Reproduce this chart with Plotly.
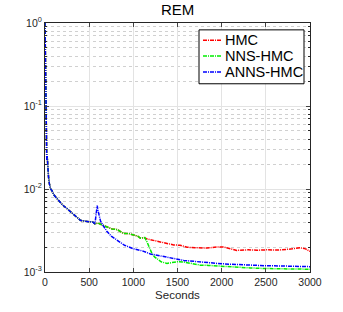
import plotly.graph_objects as go

# ---- data ----
hmc_t = [0, 5, 10, 15, 20, 25, 30, 40, 50, 64, 80, 100, 130, 160, 200, 250, 300, 350, 400, 450, 500, 540, 565,
         600, 629, 700, 760, 817, 860, 892, 950, 1005, 1050, 1080, 1120, 1155, 1230, 1306, 1380, 1456, 1530, 1607,
         1700, 1833, 1950, 2021, 2100, 2172, 2300, 2400, 2510, 2650, 2800, 2886, 2950, 3000]
hmc_v = [1.0, 0.3, 0.06, 0.03, 0.022, 0.025, 0.019, 0.014, 0.0115, 0.0100, 0.0095, 0.0085, 0.0078, 0.0072, 0.0064,
         0.0058, 0.0052, 0.0046, 0.0042, 0.0041, 0.0040, 0.0040, 0.0038,
         0.0039, 0.00376, 0.0035, 0.0033, 0.00325, 0.0030, 0.0029, 0.0029, 0.0028, 0.0027, 0.00256, 0.0026, 0.0025,
         0.0024, 0.00228, 0.0022, 0.00212, 0.0021, 0.00199, 0.00196, 0.00194, 0.0020, 0.0020, 0.0019, 0.00182,
         0.00185, 0.00183, 0.00185, 0.00184, 0.0019, 0.00196, 0.0019, 0.00177]

nns_t = [0, 5, 10, 15, 20, 25, 30, 40, 50, 64, 80, 100, 130, 160, 200, 250, 300, 350, 400, 450, 500, 540, 565,
         600, 629, 700, 760, 817, 860, 892, 950, 1005, 1050, 1080, 1130, 1155, 1190, 1212, 1240, 1268, 1320, 1381,
         1450, 1500, 1570, 1650, 1758, 1850, 1946, 2100, 2322, 2500, 2700, 3000]
nns_v = [1.0, 0.3, 0.06, 0.03, 0.022, 0.025, 0.019, 0.014, 0.0115, 0.0100, 0.0095, 0.0085, 0.0078, 0.0072, 0.0064,
         0.0058, 0.0052, 0.0046, 0.0042, 0.0041, 0.0040, 0.0040, 0.0038,
         0.0039, 0.00376, 0.0035, 0.0033, 0.00325, 0.0030, 0.0029, 0.0029, 0.0028, 0.0027, 0.00256, 0.0026, 0.0023,
         0.0019, 0.00166, 0.00152, 0.00145, 0.00132, 0.00127, 0.0013, 0.00133, 0.00132, 0.00128, 0.00121, 0.0012,
         0.00118, 0.00116, 0.00112, 0.0011, 0.00109, 0.00108]

anns_t = [0, 5, 10, 15, 20, 25, 30, 40, 50, 64, 80, 100, 130, 160, 200, 250, 300, 350, 400, 450, 500, 540, 565,
          575, 585, 591, 600, 615, 629, 660, 700, 750, 817, 900, 1005, 1100, 1193, 1300, 1381, 1480, 1570, 1700,
          1800, 1946, 2100, 2322, 2500, 2700, 2850, 3000]
anns_v = [1.0, 0.3, 0.06, 0.03, 0.022, 0.025, 0.019, 0.014, 0.0115, 0.0100, 0.0095, 0.0085, 0.0078, 0.0072, 0.0064,
          0.0058, 0.0052, 0.0046, 0.0042, 0.0041, 0.0040, 0.0040, 0.0038, 0.0045, 0.0058, 0.0063, 0.0055, 0.0046,
          0.0041, 0.0036, 0.0031, 0.0027, 0.00239, 0.0021, 0.0019, 0.0018, 0.00165, 0.00157, 0.00150, 0.00143,
          0.00138, 0.00134, 0.00130, 0.00127, 0.00124, 0.0012, 0.00119, 0.00118, 0.00117, 0.00116]

series_names = ["HMC", "NNS-HMC", "ANNS-HMC"]
series_colors = ["#ff0000", "#00ee00", "#0000ff"]

x_ticks = [0, 500, 1000, 1500, 2000, 2500, 3000]
y_tickvals = [1e-3, 1e-2, 1e-1, 1]
y_ticktext = ["10<sup>-3</sup>", "10<sup>-2</sup>", "10<sup>-1</sup>", "10<sup>0</sup>"]
minor_vals = [m * 10 ** e for e in (-3, -2, -1) for m in range(2, 10)]

W, H = 343, 312
ML, MR, MT, MB = 45, 33, 23, 35
DASH = "4px,1px,1px,1px"


def px_x(p):
    return (p - ML) / (W - ML - MR)


def px_y(p):
    return (H - MB - p) / (H - MT - MB)


fig = go.Figure()
for t, v, name, col in zip([hmc_t, nns_t, anns_t], [hmc_v, nns_v, anns_v], series_names, series_colors):
    fig.add_trace(go.Scatter(x=t, y=v, mode="lines", name=name, showlegend=False,
                             line=dict(color=col, width=1.5, dash=DASH)))

# MATLAB-style legend box (compact rows)
shapes = [dict(type="rect", xref="paper", yref="paper", layer="above",
               x0=px_x(199), x1=px_x(304), y0=px_y(85), y1=px_y(30),
               line=dict(color="#000000", width=1), fillcolor="white")]
annotations = []
row_y = [40.5, 56.7, 73.0]
for name, col, ry in zip(series_names, series_colors, row_y):
    shapes.append(dict(type="line", xref="paper", yref="paper", layer="above",
                       x0=px_x(203), x1=px_x(222), y0=px_y(ry), y1=px_y(ry),
                       line=dict(color=col, width=1.5, dash=DASH)))
    annotations.append(dict(text=name, xref="paper", yref="paper", x=px_x(223), y=px_y(ry),
                            xanchor="left", yanchor="middle", showarrow=False,
                            font=dict(size=14.5, color="#000000")))

font = "Liberation Sans, Arial, sans-serif"
fig.update_layout(
    width=W, height=H,
    margin=dict(l=ML, r=MR, t=MT, b=MB),
    paper_bgcolor="white", plot_bgcolor="white",
    font=dict(family=font, size=10, color="#262626"),
    title=dict(text="REM", x=0.518, xanchor="center", y=1 - 9.5 / H, yref="container", yanchor="middle",
               font=dict(size=15, color="#000000")),
    showlegend=False,
    shapes=shapes,
    annotations=annotations,
)
fig.update_xaxes(range=[0, 3000], tickvals=x_ticks, ticks="inside", ticklen=4,
                 showline=True, linecolor="#262626", linewidth=1, mirror="ticks",
                 showgrid=True, gridcolor="#e3e3e3", gridwidth=1, zeroline=False,
                 tickfont=dict(size=10.5),
                 title=dict(text="Seconds", font=dict(size=11.5), standoff=4))
fig.update_yaxes(type="log", range=[-3, 0], tickvals=y_tickvals, ticktext=y_ticktext,
                 ticks="inside", ticklen=4,
                 showline=True, linecolor="#262626", linewidth=1, mirror="ticks",
                 showgrid=True, gridcolor="#e3e3e3", gridwidth=1, zeroline=False,
                 tickfont=dict(size=10.5),
                 minor=dict(tickvals=minor_vals, ticks="inside", ticklen=2, tickcolor="#262626",
                            showgrid=True, gridcolor="#d0d0d0", griddash="dot", gridwidth=1))

fig.write_html("out.html", config={"displayModeBar": False},
               post_script="document.body.style.margin='0';")
